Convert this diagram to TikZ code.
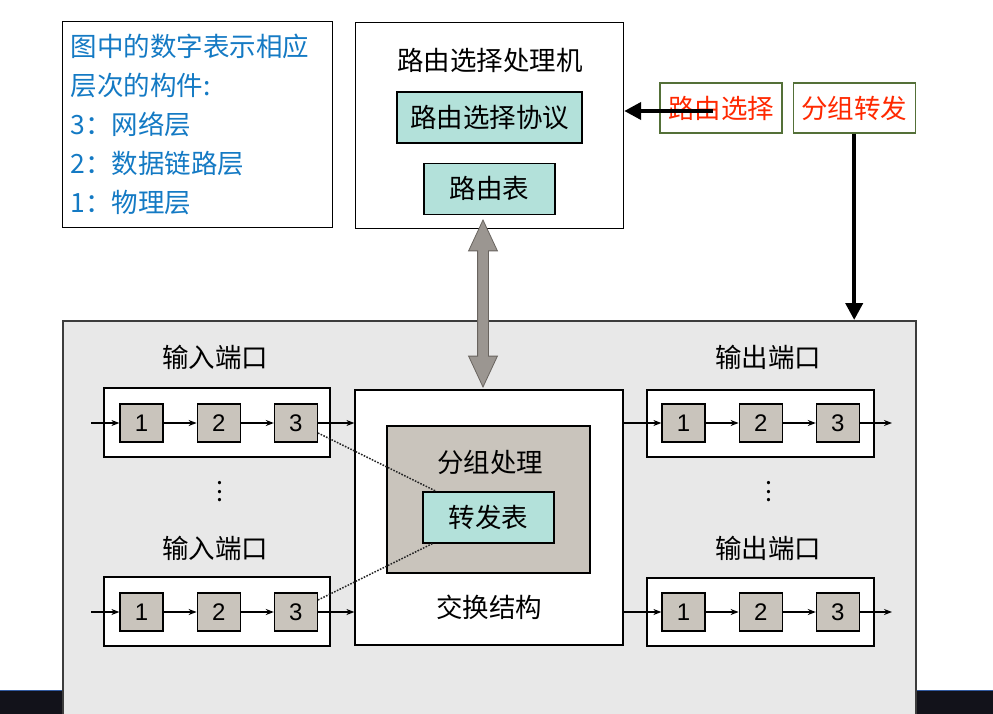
\documentclass[tikz,border=0pt]{standalone}
\usepackage{fontspec}
\setmainfont{Noto Sans CJK SC}
\newfontfamily\digitfont{Liberation Sans}
\usetikzlibrary{arrows.meta, positioning, shapes.arrows}

\definecolor{legendblue}{RGB}{20,122,196}
\definecolor{tealbox}{RGB}{179,225,218}
\definecolor{cellgray}{RGB}{201,196,188}
\definecolor{panelgray}{RGB}{232,232,232}
\definecolor{panelframe}{RGB}{60,60,60}
\definecolor{tagframe}{RGB}{84,112,56}
\definecolor{tagred}{RGB}{255,40,0}
\definecolor{arrfill}{RGB}{155,150,145}
\definecolor{arrline}{RGB}{105,100,95}
\definecolor{darkbar}{RGB}{18,18,26}
\definecolor{barline}{RGB}{50,90,160}

\begin{document}
\begin{tikzpicture}[
  x=1pt, y=-1pt,
  node distance=33pt,
  every node/.style={font=\fontsize{26.5}{39}\selectfont},
  box/.style={draw, line width=1.2pt, fill=white, inner sep=0pt},
  tbl/.style={draw, line width=1.2pt, fill=tealbox, minimum height=51pt, inner sep=0pt},
  cell/.style={draw, line width=1.2pt, fill=cellgray, minimum width=43pt, minimum height=38pt, inner sep=0pt, font=\digitfont\fontsize{24}{26}\selectfont},
  tag/.style={draw=tagframe, line width=1.2pt, text=tagred, minimum width=122pt, minimum height=50pt, inner sep=0pt},
  vdotsnode/.style={font=\fontsize{25}{8.5}\selectfont, align=center, inner sep=0pt},
  flow/.style={-{Stealth[length=8pt,width=6pt]}, line width=1.3pt},
  bigarrow/.style={-{Triangle[width=17pt,length=17pt]}, line width=4pt},
  link/.style={dash pattern=on 1.6pt off 1.4pt, line width=1.5pt, draw=black!85},
  ctlarrow/.style={double arrow, rotate=90, draw=arrline, fill=arrfill, line width=0.8pt, inner sep=5pt, double arrow head extend=9pt, double arrow tip angle=50, minimum height=167pt}
]
\useasboundingbox (0,0) rectangle (993,714);

% screen bar under the panel
\fill[darkbar] (0,690) rectangle (993,714);
\draw[barline, line width=1pt] (0,690) -- (993,690);

\node[draw=panelframe, line width=1.5pt, fill=panelgray, minimum width=853pt, minimum height=400pt, inner sep=0pt, anchor=north west] (panel) at (62,320) {};

% legend
\node[draw, line width=1.2pt, fill=white, anchor=north west, minimum width=270pt, minimum height=206pt, text width=254pt, inner xsep=8pt, align=left, text=legendblue] (legend) at (62,21)
  {图中的数字表示相应\\层次的构件:\\3：网络层\\2：数据链路层\\1：物理层};

% routing processor
\node[box, minimum width=268pt, minimum height=206pt, anchor=north west] (router) at (355,22) {};
\node (rtitle) at (490,60) {路由选择处理机};
\node[tbl, minimum width=185pt] (proto) at (489.5,117.5) {路由选择协议};
\node[tbl, minimum width=131pt, below=19pt of proto] (rtable) {路由表};

\node[tag] (rsel) at (721,108) {路由选择};
\node[tag, right=10pt of rsel] (pfwd) {分组转发};

% input ports
\node (inlbl1) at (215,357) {输入端口};
\node[box, minimum width=226pt, minimum height=69pt] (inq1) at (217,422.5) {};
\node[cell] (i11) at (141.5,423) {1};
\node[cell, right=of i11] (i12) {2};
\node[cell, right=of i12] (i13) {3};
\node[vdotsnode] (idots) at (220,492) {.\\.\\.};
\node (inlbl2) at (215,548) {输入端口};
\node[box, minimum width=226pt, minimum height=69pt] (inq2) at (217,611.5) {};
\node[cell] (i21) at (141.5,612) {1};
\node[cell, right=of i21] (i22) {2};
\node[cell, right=of i22] (i23) {3};

% switch fabric
\node[box, minimum width=268pt, minimum height=255pt] (fabric) at (489,517.5) {};
\node[draw, line width=1.2pt, fill=cellgray, minimum width=203pt, minimum height=147pt] (proc) at (488.5,499.5) {};
\node (proclbl) at (490,462) {分组处理};
\node[tbl, minimum width=131pt] (fwd) at (488.5,517.5) {转发表};
\node (fablbl) at (489,607) {交换结构};

% output ports
\node (outlbl1) at (768,357) {输出端口};
\node[box, minimum width=227pt, minimum height=67pt] (outq1) at (760.5,423.5) {};
\node[cell] (o11) at (683.5,423) {1};
\node[cell, right=of o11] (o12) {2};
\node[cell, right=of o12] (o13) {3};
\node[vdotsnode] (odots) at (769,492) {.\\.\\.};
\node (outlbl2) at (768,548) {输出端口};
\node[box, minimum width=227pt, minimum height=68pt] (outq2) at (760.5,612) {};
\node[cell] (o21) at (683.5,612) {1};
\node[cell, right=of o21] (o22) {2};
\node[cell, right=of o22] (o23) {3};

\node[ctlarrow] (ctl) at (483,303.5) {};

\coordinate (src1) at (91,423);
\coordinate (src2) at (91,612);
\coordinate (dst1) at (892,423);
\coordinate (dst2) at (892,612);
\coordinate (rselin) at (713,111);

\draw[flow] (src1) -- (i11);
\draw[flow] (i11) -- (i12);
\draw[flow] (i12) -- (i13);
\draw[flow] (i13) -- (i13 -| fabric.west);
\draw[flow] (src2) -- (i21);
\draw[flow] (i21) -- (i22);
\draw[flow] (i22) -- (i23);
\draw[flow] (i23) -- (i23 -| fabric.west);

\draw[flow] (o11 -| fabric.east) -- (o11);
\draw[flow] (o11) -- (o12);
\draw[flow] (o12) -- (o13);
\draw[flow] (o13) -- (dst1);
\draw[flow] (o21 -| fabric.east) -- (o21);
\draw[flow] (o21) -- (o22);
\draw[flow] (o22) -- (o23);
\draw[flow] (o23) -- (dst2);

\draw[link] ([yshift=-10pt]i13.east) -- ([xshift=14pt]fwd.north west);
\draw[link] ([yshift=12pt]i23.east) -- ([xshift=10pt]fwd.south west);

\draw[bigarrow] (rselin) -- (rselin -| router.east);
\draw[bigarrow] (pfwd.south) -- (pfwd.south |- panel.north);

\end{tikzpicture}
\end{document}
